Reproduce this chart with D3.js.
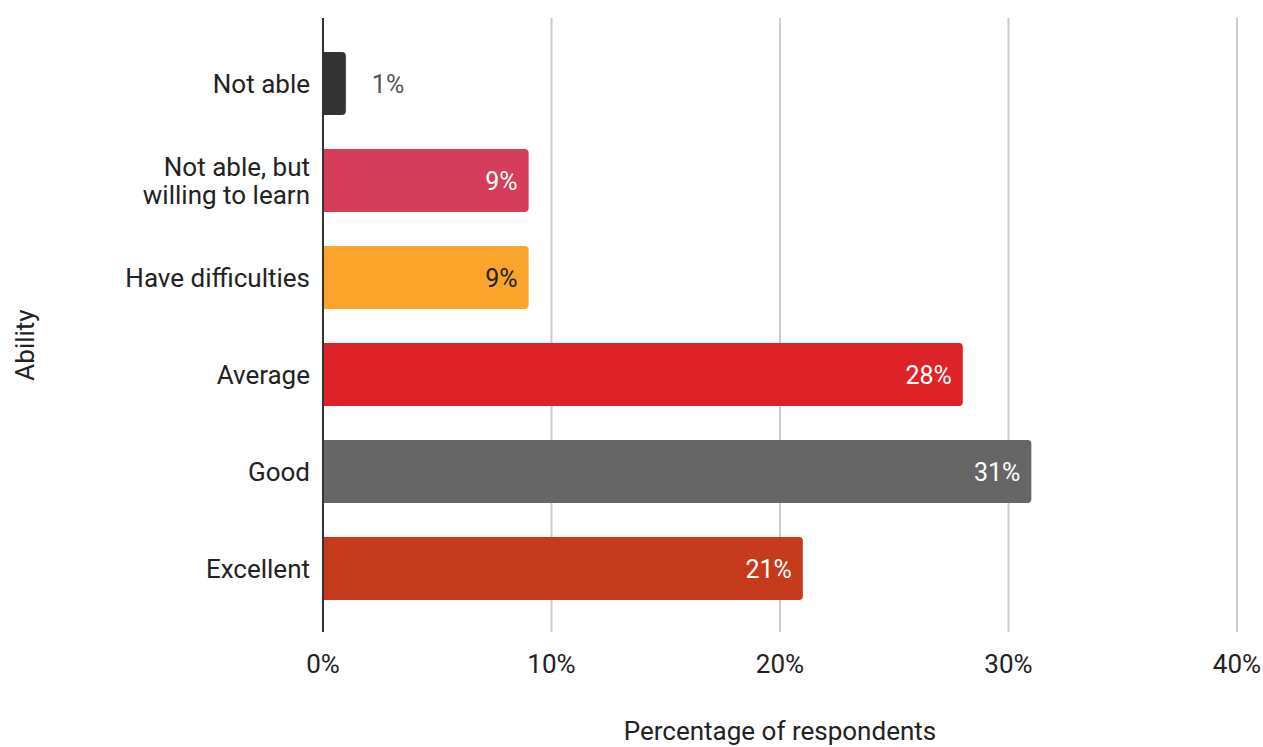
<!DOCTYPE html>
<html>
  <head>
    <meta charset="UTF-8" />
    <script src="https://d3js.org/d3.v7.min.js"></script>
    <style>
      body { margin: 0; background: #fff; }
      text { font-family: Roboto, "Noto Sans", sans-serif; }
    </style>
  </head>
  <body>
    <div id="chart"></div>
    <script>
      var categories = ["Not able", "Not able, but willing to learn", "Have difficulties", "Average", "Good", "Excellent"];
      var values = [1, 9, 9, 28, 31, 21];
      var colors = ["#333333", "#d63d58", "#fba42c", "#dd2327", "#666666", "#c63a1c"];
      var labelColors = ["#555555", "#ffffff", "#222222", "#ffffff", "#ffffff", "#ffffff"];
      var xTicks = [0, 10, 20, 30, 40];

      var width = 1263, height = 747;
      var margin = { top: 35, right: 26, bottom: 130, left: 323 };

      var svg = d3.select("#chart").append("svg")
        .attr("width", width)
        .attr("height", height);

      var x = d3.scaleLinear().domain([0, 40]).range([margin.left, margin.left + 914]);
      var y = d3.scaleBand().domain(categories).range([margin.top, margin.top + 582]).paddingInner(0.35).paddingOuter(0.175);

      // grid
      svg.append("g").selectAll("line")
        .data(xTicks.slice(1))
        .join("line")
        .attr("x1", d => x(d)).attr("x2", d => x(d))
        .attr("y1", 18).attr("y2", 632)
        .attr("stroke", "#cccccc")
        .attr("stroke-width", 2);

      // bars with rounded right corners
      var r = 4;
      svg.append("g").selectAll("path")
        .data(values)
        .join("path")
        .attr("fill", (d, i) => colors[i])
        .attr("d", function (d, i) {
          var x0 = x(0), x1 = x(d), y0 = y(categories[i]), h = y.bandwidth();
          return "M" + x0 + "," + y0 + "H" + (x1 - r) + "Q" + x1 + "," + y0 + " " + x1 + "," + (y0 + r) +
            "V" + (y0 + h - r) + "Q" + x1 + "," + (y0 + h) + " " + (x1 - r) + "," + (y0 + h) + "H" + x0 + "Z";
        });

      // value labels
      svg.append("g").selectAll("text")
        .data(values)
        .join("text")
        .attr("x", d => d < 5 ? x(d) + 26 : x(d) - 11)
        .attr("y", (d, i) => y(categories[i]) + y.bandwidth() / 2)
        .attr("dy", "0.36em")
        .attr("text-anchor", d => d < 5 ? "start" : "end")
        .attr("font-size", 25)
        .attr("fill", (d, i) => labelColors[i])
        .text(d => d + "%");

      // axis line
      svg.append("line")
        .attr("x1", x(0)).attr("x2", x(0))
        .attr("y1", 18).attr("y2", 632)
        .attr("stroke", "#333333")
        .attr("stroke-width", 2);

      // category labels
      var yAxis = svg.append("g").attr("transform", "translate(" + (x(0) - 13) + ",0)");
      categories.forEach(function (c, i) {
        var lines = c === "Not able, but willing to learn" ? ["Not able, but", "willing to learn"] : [c];
        var t = yAxis.append("text")
          .attr("text-anchor", "end")
          .attr("font-size", 26)
          .attr("fill", "#222222")
          .attr("y", y(c) + y.bandwidth() / 2);
        lines.forEach(function (l, j) {
          t.append("tspan")
            .attr("x", 0)
            .attr("dy", j === 0 ? (0.36 - (lines.length - 1) * 0.55) + "em" : "1.1em")
            .text(l);
        });
      });

      // x tick labels
      svg.append("g").selectAll("text")
        .data(xTicks)
        .join("text")
        .attr("x", d => x(d))
        .attr("y", 673)
        .attr("text-anchor", "middle")
        .attr("font-size", 26)
        .attr("fill", "#222222")
        .text(d => d + "%");

      // axis titles
      svg.append("text")
        .attr("x", 780).attr("y", 740)
        .attr("text-anchor", "middle")
        .attr("font-size", 26)
        .attr("fill", "#222222")
        .text("Percentage of respondents");

      svg.append("text")
        .attr("transform", "translate(34,345) rotate(-90)")
        .attr("text-anchor", "middle")
        .attr("font-size", 26)
        .attr("fill", "#222222")
        .text("Ability");
    </script>
  </body>
</html>
